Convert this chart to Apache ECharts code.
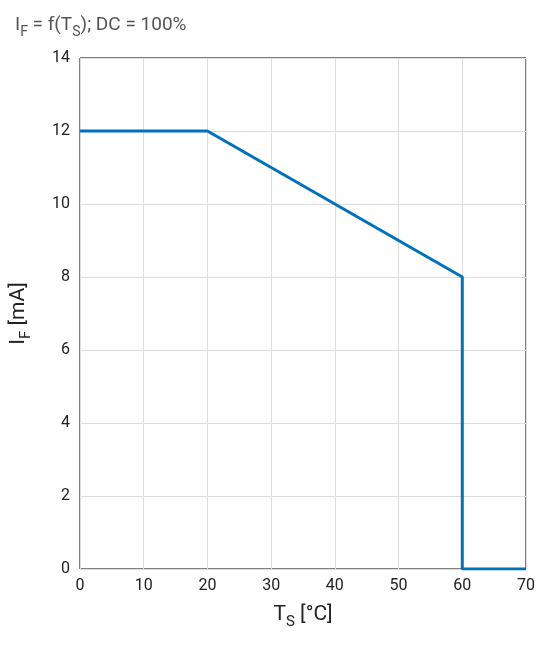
<!DOCTYPE html>
<html><head><meta charset="utf-8">
<script src="https://cdn.jsdelivr.net/npm/echarts@6/dist/echarts.min.js"></script>
<style>html,body{margin:0;padding:0;background:#fff}#c{width:541px;height:646px}</style>
</head><body><div id="c"></div>
<script>
const xValues = [0, 20, 60, 60, 70];
const yValues = [12, 12, 8, 0, 0];
const xTicks = [0, 10, 20, 30, 40, 50, 60, 70];
const yTicks = [0, 2, 4, 6, 8, 10, 12, 14];
const chart = echarts.init(document.getElementById('c'));
const font = 'Roboto, "Liberation Sans", sans-serif';
chart.setOption({
  animation: false,
  title: {
    text: '{a|I}{s|F}{a| = f(T}{s|S}{a|); DC = 100%}',
    left: 10, top: 6,
    textStyle: { fontWeight: 'normal', rich: {
      a: { fontSize: 19, color: '#555', fontFamily: font, fontWeight: 'normal' },
      s: { fontSize: 14, color: '#555', fontFamily: font, fontWeight: 'normal', padding: [14, 0, 0, 0] }
    } }
  },
  grid: { left: 80, right: 15, top: 58, bottom: 77, show: true, borderColor: '#000', borderWidth: 1 },
  xAxis: {
    type: 'value', min: 0, max: 70, interval: 10,
    name: '{a|T}{s|S}{a| [°C]}', nameLocation: 'middle', nameGap: 30,
    nameTextStyle: { rich: {
      a: { fontSize: 21, color: '#222', fontFamily: font },
      s: { fontSize: 15, color: '#222', fontFamily: font, padding: [16, 0, 0, 0] }
    } },
    axisLine: { show: false }, axisTick: { show: false },
    axisLabel: { fontSize: 16, color: '#222', fontFamily: font, margin: 9 },
    splitLine: { lineStyle: { color: '#ddd' } }
  },
  yAxis: {
    type: 'value', min: 0, max: 14, interval: 2,
    name: '{a|I}{s|F}{a| [mA]}', nameLocation: 'middle', nameGap: 46, nameRotate: 90,
    nameTextStyle: { rich: {
      a: { fontSize: 21, color: '#222', fontFamily: font },
      s: { fontSize: 15, color: '#222', fontFamily: font, padding: [16, 0, 0, 0] }
    } },
    axisLine: { show: false }, axisTick: { show: false },
    axisLabel: { fontSize: 16, color: '#222', fontFamily: font, margin: 10 },
    splitLine: { lineStyle: { color: '#ddd' } }
  },
  series: [{
    type: 'line', symbol: 'none',
    data: xValues.map((x, i) => [x, yValues[i]]),
    lineStyle: { color: '#0072BD', width: 3 }
  }]
});
</script></body></html>
